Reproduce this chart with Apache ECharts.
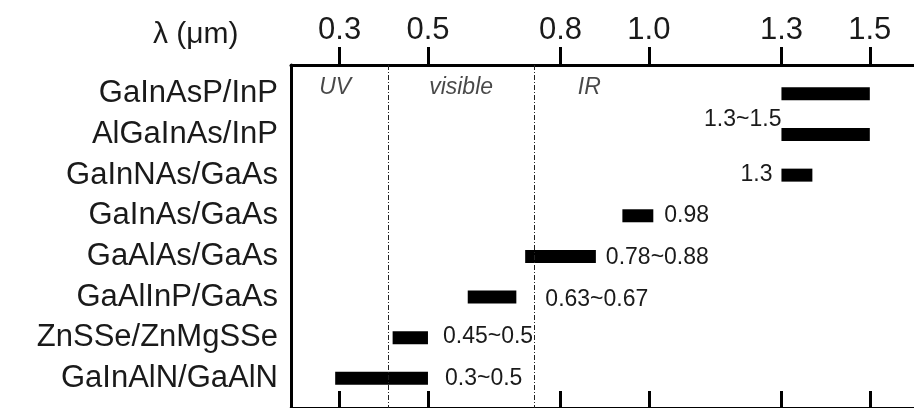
<!DOCTYPE html>
<html>
<head>
<meta charset="utf-8">
<script src="https://cdn.jsdelivr.net/npm/echarts@6/dist/echarts.min.js"></script>
<style>
  html, body { margin: 0; padding: 0; background: #fff; }
  #chart { width: 914px; height: 408px; }
</style>
</head>
<body>
<div id="chart"></div>
<script>
// materials (rows, top to bottom)
var categories = ['GaInAsP/InP', 'AlGaInAs/InP', 'GaInNAs/GaAs', 'GaInAs/GaAs',
                  'GaAlAs/GaAs', 'GaAlInP/GaAs', 'ZnSSe/ZnMgSSe', 'GaInAlN/GaAlN'];
// bar extent in um
var barStart = [1.30, 1.30, 1.30, 0.94, 0.72, 0.59, 0.42, 0.29];
var barEnd   = [1.50, 1.50, 1.37, 1.01, 0.88, 0.70, 0.50, 0.50];
var rangeLabels = ['', '1.3~1.5', '1.3', '0.98', '0.78~0.88', '0.63~0.67', '0.45~0.5', '0.3~0.5'];
var tickValues = [0.3, 0.5, 0.8, 1.0, 1.3, 1.5];
// UV | visible | IR boundaries
var regionBounds = [0.41, 0.745];
var regionNames = ['UV', 'visible', 'IR'];
var regionCenters = [0.29, 0.575, 0.865];

// where each range label sits relative to its bar (style only)
var labelPlace = [
    null,
    { side: 'left', dx: 0, dy: -15 },
    { side: 'left', dx: -9, dy: 0 },
    { side: 'right', dx: 11, dy: 0 },
    { side: 'right', dx: 10, dy: 1 },
    { side: 'right', dx: 29, dy: 3 },
    { side: 'right', dx: 15, dy: -1 },
    { side: 'right', dx: 17, dy: 0 }
];

var FONT = '"Liberation Sans", Arial, sans-serif';
var TXT = '#1a1a1a';

var myChart = echarts.init(document.getElementById('chart'));

var option = {
    animation: false,
    title: {
        text: 'λ (μm)',
        left: 148,
        top: 15,
        textStyle: { fontSize: 30, fontWeight: 'normal', color: TXT, fontFamily: FONT }
    },
    grid: { left: 291, right: -3, top: 65, bottom: -2 },
    xAxis: [
        {
            type: 'value',
            position: 'top',
            min: 0.19,
            max: 1.6,
            axisLine: { show: true, onZero: false, lineStyle: { color: '#000', width: 3 } },
            axisTick: { show: true, inside: false, length: 18, customValues: tickValues,
                        lineStyle: { color: '#000', width: 3 } },
            axisLabel: { show: true, customValues: tickValues, margin: 19,
                         fontSize: 31, color: TXT, fontFamily: FONT,
                         formatter: function (v) { return v.toFixed(1); } },
            splitLine: { show: false }
        },
        {
            type: 'value',
            position: 'bottom',
            min: 0.19,
            max: 1.6,
            axisLine: { show: true, onZero: false, lineStyle: { color: '#000', width: 3 } },
            axisTick: { show: true, inside: true, length: 17, customValues: tickValues,
                        lineStyle: { color: '#000', width: 3 } },
            axisLabel: { show: false },
            splitLine: { show: false }
        }
    ],
    yAxis: {
        type: 'value',
        inverse: true,
        min: -0.71,
        max: 7.73,
        axisLine: { show: true, onZero: false, lineStyle: { color: '#000', width: 3 } },
        axisTick: { show: false },
        splitLine: { show: false },
        axisLabel: {
            customValues: [0, 1, 2, 3, 4, 5, 6, 7],
            margin: 13,
            fontSize: 31,
            color: TXT,
            fontFamily: FONT,
            formatter: function (v) { return categories[Math.round(v)]; }
        }
    },
    series: [
        {
            type: 'custom',
            xAxisIndex: 0,
            clip: false,
            encode: { x: [0, 1], y: 2 },
            data: categories.map(function (c, i) { return [barStart[i], barEnd[i], i]; }),
            renderItem: function (params, api) {
                var i = api.value(2);
                var p0 = api.coord([api.value(0), i]);
                var p1 = api.coord([api.value(1), i]);
                var h = 13;
                var children = [{
                    type: 'rect',
                    shape: { x: p0[0], y: p0[1] - h / 2, width: p1[0] - p0[0], height: h },
                    style: { fill: '#000' }
                }];
                var lp = labelPlace[i];
                if (lp && rangeLabels[i]) {
                    var right = lp.side === 'right';
                    children.push({
                        type: 'text',
                        x: (right ? p1[0] : p0[0]) + lp.dx,
                        y: p0[1] + lp.dy,
                        style: {
                            text: rangeLabels[i],
                            fill: TXT,
                            fontSize: 23,
                            fontFamily: FONT,
                            align: right ? 'left' : 'right',
                            verticalAlign: 'middle'
                        }
                    });
                }
                return { type: 'group', children: children };
            }
        },
        {
            type: 'scatter',
            xAxisIndex: 0,
            symbolSize: 1,
            itemStyle: { color: 'transparent' },
            data: regionNames.map(function (n, i) { return [regionCenters[i], -0.15, n]; }),
            label: {
                show: true,
                position: 'inside',
                fontSize: 23,
                fontStyle: 'italic',
                color: TXT,
                fontFamily: FONT,
                formatter: function (p) { return p.data[2]; }
            },
            markLine: {
                silent: true,
                symbol: 'none',
                label: { show: false },
                lineStyle: { color: '#222', width: 1, type: [5, 2, 1, 2] },
                data: regionBounds.map(function (b) { return { xAxis: b }; })
            }
        }
    ]
};
myChart.setOption(option);
</script>
</body>
</html>
